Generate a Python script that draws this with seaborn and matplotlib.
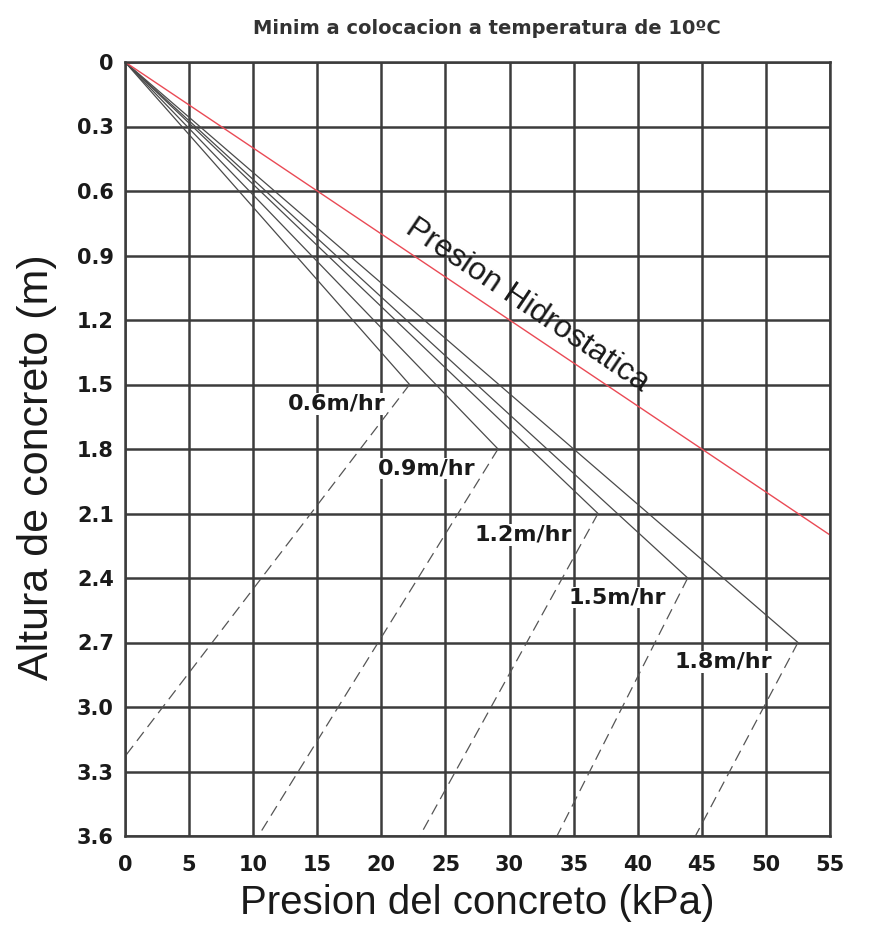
import matplotlib
matplotlib.use("Agg")
import matplotlib.pyplot as plt
import seaborn as sns
import pandas as pd

# rates of placement and their pressure envelopes
rates = ["0.6m/hr", "0.9m/hr", "1.2m/hr", "1.5m/hr", "1.8m/hr"]
peak_pressure = [22.2, 29.1, 36.9, 43.9, 52.5]
peak_depth = [1.5, 1.8, 2.1, 2.4, 2.7]
end_pressure = [0.0, 10.4, 23.0, 33.7, 44.5]
end_depth = [3.23, 3.6, 3.6, 3.6, 3.6]

# hydrostatic pressure line
hydro_pressure = [0, 55]
hydro_depth = [0, 2.2]

x_ticks = list(range(0, 56, 5))
y_ticks = [0, 0.3, 0.6, 0.9, 1.2, 1.5, 1.8, 2.1, 2.4, 2.7, 3.0, 3.3, 3.6]
y_labels = ["0", "0.3", "0.6", "0.9", "1.2", "1.5", "1.8", "2.1", "2.4", "2.7", "3.0", "3.3", "3.6"]

# build long tables for seaborn
rise = pd.DataFrame({
    "pressure": [v for p in peak_pressure for v in (0, p)],
    "depth": [v for d in peak_depth for v in (0, d)],
    "rate": [r for r in rates for _ in range(2)],
})
fall = pd.DataFrame({
    "pressure": [v for a, b in zip(peak_pressure, end_pressure) for v in (a, b)],
    "depth": [v for a, b in zip(peak_depth, end_depth) for v in (a, b)],
    "rate": [r for r in rates for _ in range(2)],
})
hydro = pd.DataFrame({"pressure": hydro_pressure, "depth": hydro_depth})

sns.set_style("white")
fig = plt.figure(figsize=(8.7, 9.34), dpi=100)
ax = fig.add_axes([125 / 870, 1 - 836 / 934, 705 / 870, 774 / 934])

sns.lineplot(data=rise, x="pressure", y="depth", units="rate", estimator=None,
             sort=False, color="#4a4a4a", lw=0.9, ax=ax)
sns.lineplot(data=fall, x="pressure", y="depth", units="rate", estimator=None,
             sort=False, color="#555555", lw=0.9, ax=ax,
             linestyle=(0, (9, 5)))
sns.lineplot(data=hydro, x="pressure", y="depth", sort=False,
             color="#ea4a55", lw=1.0, ax=ax)

ax.set_xlim(0, 55)
ax.set_ylim(3.6, 0)
ax.set_xticks(x_ticks)
ax.set_yticks(y_ticks)
ax.set_yticklabels(y_labels)
ax.grid(True, color="#3c3c3c", lw=1.8)
ax.set_axisbelow(True)
for s in ax.spines.values():
    s.set_color("#3c3c3c")
    s.set_linewidth(1.8)

ax.tick_params(axis="both", length=0, labelsize=15, labelcolor="#1a1a1a")
ax.tick_params(axis="y", pad=8)
ax.tick_params(axis="x", pad=14)
for t in ax.get_xticklabels() + ax.get_yticklabels():
    t.set_fontweight("bold")

ax.set_xlabel("Presion del concreto (kPa)", fontsize=29, family="Liberation Sans",
              color="#1a1a1a", labelpad=6)
ax.set_ylabel("Altura de concreto (m)", fontsize=31, family="Liberation Sans",
              color="#1a1a1a")
ax.yaxis.set_label_coords(-0.097, 0.477)

fig.text(487 / 870, 1 - 28 / 934, "Minim a colocacion a temperatura de 10ºC",
         ha="center", va="center", fontsize=14, fontweight="bold", color="#333333")

# rate labels
label_xy = [(16.5, 1.59), (23.5, 1.89), (31.1, 2.2), (38.4, 2.49), (46.7, 2.79)]
for r, (lx, ly) in zip(rates, label_xy):
    ax.text(lx, ly, r, ha="center", va="center", fontsize=16, fontweight="bold",
            color="#1a1a1a", bbox=dict(facecolor="white", edgecolor="none", pad=0.5))

ax.text(31.4, 1.13, "Presion Hidrostatica", rotation=-34, rotation_mode="anchor",
        ha="center", va="center", fontsize=23, family="Liberation Sans", color="#1a1a1a")

fig.savefig("out.png", dpi=100)
